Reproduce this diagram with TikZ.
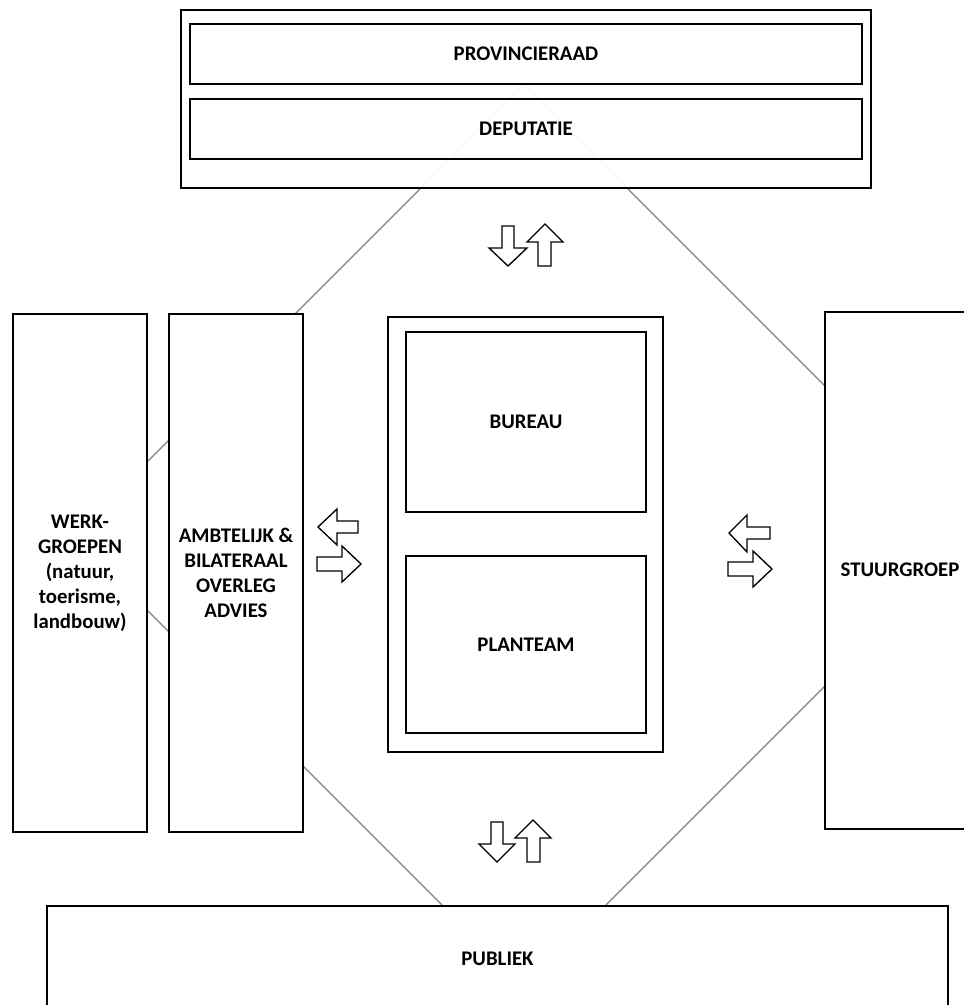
\documentclass[tikz,border=0pt]{standalone}
\usepackage{fontspec}
\setmainfont{Carlito}
\begin{document}
\begin{tikzpicture}[x=0.75pt,y=-0.75pt,
  box/.style={draw=black,line width=1.1pt,fill=white},
  lbl/.style={font=\bfseries\fontsize{15.6}{18.75}\selectfont,align=center},
  kite/.style={draw=black!50,line width=0.9pt},
  blockarrow/.style={draw=black,line width=1pt,fill=white,line join=miter}]
\useasboundingbox (0,0) rectangle (963,1005);
% background diamond
\coordinate (kt) at (524,85);
\coordinate (kl) at (73,536);
\coordinate (kb) at (524,987);
\coordinate (kr) at (975,536);
\draw[kite] (kt) -- (kl) -- (kb) -- (kr) -- cycle;
% top group
\draw[box,fill opacity=0.93] (181,10) rectangle (871,188);
\node[draw=black,line width=1.1pt,fill=white,minimum width=672*0.75pt,minimum height=60*0.75pt,inner sep=0pt,lbl] (prov) at (526,54) {PROVINCIERAAD};
\node[draw=black,line width=1.1pt,minimum width=672*0.75pt,minimum height=60*0.75pt,inner sep=0pt,lbl] (dep) at (526,129) {DEPUTATIE};
% left boxes
\node[box,minimum width=134*0.75pt,minimum height=518*0.75pt,inner sep=0pt,lbl] (werk) at (80,573) {WERK-\\GROEPEN\\(natuur,\\toerisme,\\landbouw)};
\node[box,minimum width=134*0.75pt,minimum height=518*0.75pt,inner sep=0pt,lbl] (ambt) at (236,573) {AMBTELIJK \&\\BILATERAAL\\OVERLEG\\ADVIES};
% central group
\draw[box] (388,317) rectangle (663,752);
\node[box,minimum width=240*0.75pt,minimum height=180*0.75pt,inner sep=0pt,lbl] (bureau) at (526,422) {BUREAU};
\node[box,minimum width=240*0.75pt,minimum height=177*0.75pt,inner sep=0pt,lbl] (plan) at (526,644.5) {PLANTEAM};
% right box (cut off at the edge)
\draw[box] (990,312) -- (825,312) -- (825,829) -- (990,829);
\node[lbl] (stuur) at (900,570) {STUURGROEP};
% bottom box (cut off at the edge)
\draw[box] (47,1015) -- (47,906) -- (948,906) -- (948,1015);
\node[lbl] (pub) at (497.5,959) {PUBLIEK};
% block arrows: top pair
\draw[blockarrow] (502,226) -- (514,226) -- (514,248) -- (527,248) -- (508,266) -- (489,248) -- (502,248) -- cycle;
\draw[blockarrow] (538,266) -- (551,266) -- (551,242) -- (563,242) -- (545,224) -- (527,242) -- (538,242) -- cycle;
% bottom pair
\draw[blockarrow] (491,822) -- (503,822) -- (503,844) -- (515,844) -- (497,862) -- (479,844) -- (491,844) -- cycle;
\draw[blockarrow] (527,862) -- (540,862) -- (540,838) -- (551,838) -- (533,820) -- (515,838) -- (527,838) -- cycle;
% left pair
\draw[blockarrow] (358,521) -- (358,533) -- (337,533) -- (337,545) -- (318,527) -- (337,509) -- (337,521) -- cycle;
\draw[blockarrow] (317,557) -- (317,571) -- (342,571) -- (342,582) -- (361,564) -- (342,546) -- (342,557) -- cycle;
% right pair
\draw[blockarrow] (770,527) -- (770,539) -- (747,539) -- (747,552) -- (729,533) -- (747,515) -- (747,527) -- cycle;
\draw[blockarrow] (728,562) -- (728,576) -- (753,576) -- (753,587) -- (772,569) -- (753,551) -- (753,562) -- cycle;
\end{tikzpicture}
\end{document}
